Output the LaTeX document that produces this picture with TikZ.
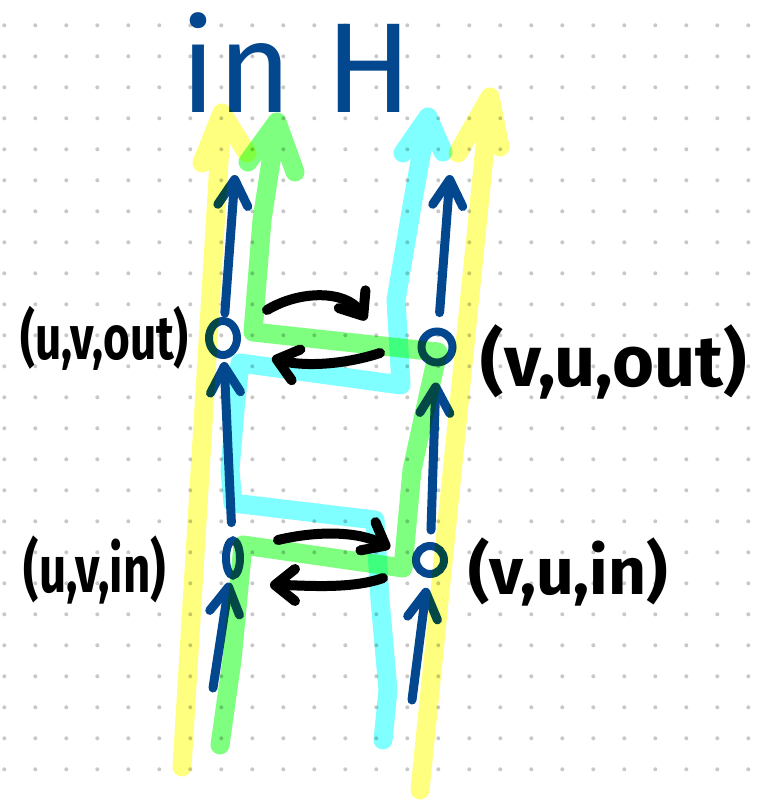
\documentclass[tikz,border=0pt]{standalone}
\usepackage{fontspec}
\setmainfont{Fira Sans}
\usepackage{xcolor}
\definecolor{colInk}{HTML}{03488E}
\definecolor{colDot}{HTML}{C8C8C8}
\definecolor{colYellow}{HTML}{FFFF00}
\definecolor{colGreen}{HTML}{00FF00}
\definecolor{colCyan}{HTML}{00FFFF}
\usepackage{tikz}
\usetikzlibrary{arrows.meta, positioning, shapes.geometric}
\tikzset{
    vertex/.style={ellipse, draw=colInk, line width=8pt, inner sep=0pt},
    hand/.style={font=\fontsize{#1}{#1}\selectfont\bfseries, text=black, inner sep=0pt},
    inkarrow/.style={-{Straight Barb[length=26pt, width=30pt, round]}, draw=colInk, line width=9pt, line cap=round},
    swaparrow/.style={-{Straight Barb[length=20pt, width=32pt, round]}, draw=black, line width=10pt, line cap=round},
    marker/.style={draw=#1, draw opacity=0.5, line width=19pt, line cap=round, line join=round},
}
\begin{document}
\begin{tikzpicture}[x=1pt, y=-1pt]
    \useasboundingbox (0,0) rectangle (760,800);
    \fill[white] (0,0) rectangle (760,800);
    % dotted paper
    \foreach \i in {0,...,24}
        \foreach \j in {0,...,24}
            \fill[colDot] ({4.3+31*\i},{25.3+31*\j}) circle (2pt);

    % title
    \node[font=\fontsize{128}{128}\selectfont, text=colInk, anchor=base, inner sep=0pt]
          (title) at (297,112) {in H};

    % vertices
    \node[vertex, minimum width=28pt, minimum height=34pt] (uvout) at (223,338) {};
    \node[vertex, minimum width=31pt, minimum height=31pt] (vuout) at (437,347) {};
    \node[vertex, minimum width=14pt, minimum height=35pt] (uvin) at (233,558) {};
    \node[vertex, minimum width=28pt, minimum height=28pt] (vuin) at (430,560) {};

    % labels
    \node[hand=62, xscale=0.74, transform shape, left=16pt of uvout] (uvoutLabel) {(u,v,out)};
    \node[hand=72, right=24pt of vuout, yshift=-15pt] (vuoutLabel) {(v,u,out)};
    \node[hand=66, xscale=0.72, transform shape, left=56pt of uvin, yshift=-12pt] (uvinLabel) {(u,v,in)};
    \node[hand=66, right=20pt of vuin, yshift=-12pt] (vuinLabel) {(v,u,in)};

    % blue edges
    \coordinate (uvinFoot) at (213,688);
    \coordinate (vuinFoot) at (412,700);
    \coordinate (uvoutHead) at (235,175);
    \coordinate (vuoutHead) at (450,175);
    \draw[inkarrow, shorten >=4pt] (uvinFoot) -- (uvin);
    \draw[inkarrow, shorten >=10pt] (vuinFoot) -- (vuin);
    \draw[inkarrow, shorten <=14pt, shorten >=3pt] (uvin) -- (uvout);
    \draw[inkarrow, shorten <=12pt, shorten >=16pt] (vuin) -- (vuout);
    \draw[inkarrow, shorten <=4pt] (uvout) -- (uvoutHead);
    \draw[inkarrow, shorten <=15pt] (vuout) -- (vuoutHead);

    % highlighter paths
    \begin{scope}[blend mode=multiply]
        \draw[marker=colYellow] (182,767) -- (222,113) (202,163) -- (222,113) -- (247,153);
        \draw[marker=colYellow] (420,790) -- (490,97) (458,153) -- (490,97) -- (500,147);
        \draw[marker=colGreen] (220,745) -- (232,660) -- (243,545) -- (403,568)
              -- (412,470) -- (425,410) -- (438,352) -- (253,332) -- (262,220) -- (277,122)
              (248,162) -- (277,122) -- (295,172);
        \draw[marker=colCyan] (383,740) -- (388,690) -- (380,600) -- (375,520) -- (233,503)
              -- (230,470) -- (235,410) -- (240,363) -- (401,385) -- (396,300)
              -- (413,200) -- (428,117)
              (403,153) -- (428,117) -- (443,152);
    \end{scope}

    % swaps between the two copies
    \draw[swaparrow] ([shift={(44,-28)}]uvout.center) .. controls +(33,-20) and +(-20,-30)
          .. ([shift={(-71,-27)}]vuout.center);
    \draw[swaparrow] ([shift={(-57,6)}]vuout.center) .. controls +(-40,13) and +(28,8)
          .. ([shift={(49,20)}]uvout.center);
    \draw[swaparrow] ([shift={(45,-18)}]uvin.center) .. controls +(42,-10) and +(-30,-16)
          .. ([shift={(-40,-12)}]vuin.center);
    \draw[swaparrow] ([shift={(-47,18)}]vuin.center) .. controls +(-33,12) and +(30,0)
          .. ([shift={(37,27)}]uvin.center);
\end{tikzpicture}
\end{document}
